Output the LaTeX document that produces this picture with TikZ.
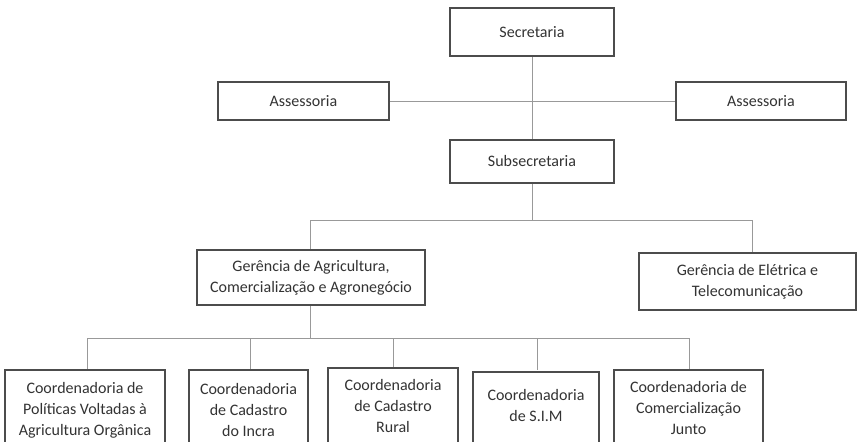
\documentclass[tikz,border=0pt]{standalone}
\usepackage{fontspec}
\setmainfont{Carlito}
\begin{document}
\begin{tikzpicture}[x=1pt,y=-1pt,
  box/.style={draw=black!70,line width=1.1pt,fill=white},
  lbl/.style={align=center,font=\fontsize{16}{21}\selectfont,text=black!80},
  ln/.style={draw=black!40,line width=1pt}]
\useasboundingbox (0,0) rectangle (860,442);
\fill[white] (0,0) rectangle (860,442);
\coordinate (hA) at (389,101); \coordinate (hB) at (676,101);
\coordinate (m1) at (532,220); \coordinate (l1) at (310,220); \coordinate (r1) at (752,220);
\coordinate (m2) at (310,338); \coordinate (b1) at (87,338); \coordinate (b5) at (689,338);
\draw[ln] (532,56) -- (532,140);
\draw[ln] (hA) -- (hB);
\draw[ln] (532,183) -- (m1);
\draw[ln] (l1) -- (r1);
\draw[ln] (l1) -- (310,250);
\draw[ln] (r1) -- (752,253);
\draw[ln] (310,305) -- (m2);
\draw[ln] (b1) -- (b5);
\foreach \x in {87,250,393,537,689} \draw[ln] (\x,338) -- (\x,370);
\draw[box] (450,8) rectangle (614,56) node[lbl,pos=.5] (sec) {Secretaria};
\draw[box] (218,82) rectangle (389,120) node[lbl,pos=.5] (as1) {Assessoria};
\draw[box] (676,82) rectangle (846,120) node[lbl,pos=.5] (as2) {Assessoria};
\draw[box] (450,140) rectangle (614,183) node[lbl,pos=.5] (sub) {Subsecretaria};
\draw[box] (197,250) rectangle (425,305) node[lbl,pos=.5] (g1) {Gerência de Agricultura,\\Comercialização e Agronegócio};
\draw[box] (639,253) rectangle (856,310) node[lbl,pos=.5] (g2) {Gerência de Elétrica e\\Telecomunicação};
\draw[box] (5,370) rectangle (165,450);
\draw[box] (189,370) rectangle (308,450);
\draw[box] (328,368) rectangle (458,450);
\draw[box] (473,372) rectangle (599,450);
\draw[box] (614,370) rectangle (763,450);
\node[lbl] (c1) at (85,410) {Coordenadoria de\\Políticas Voltadas à\\Agricultura Orgânica};
\node[lbl] (c2) at (248.5,410) {Coordenadoria\\de Cadastro\\do Incra};
\node[lbl] (c3) at (393,406) {Coordenadoria\\de Cadastro\\Rural};
\node[lbl] (c4) at (536,406) {Coordenadoria\\de S.I.M};
\node[lbl] (c5) at (688.5,408) {Coordenadoria de\\Comercialização\\Junto};
\end{tikzpicture}
\end{document}
